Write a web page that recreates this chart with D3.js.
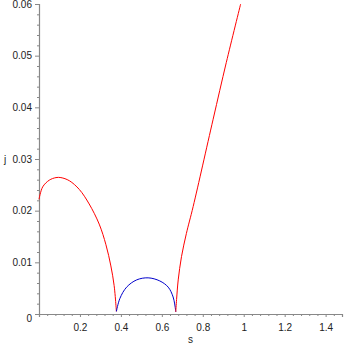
<!DOCTYPE html>
<html>
<head>
<meta charset="utf-8">
<script src="https://cdn.jsdelivr.net/npm/d3@7"></script>
<style>
  body { margin: 0; background: #fff; }
  text { font-family: "Liberation Sans", Arial, sans-serif; }
</style>
</head>
<body>
<div id="chart"></div>
<script>
// values
var redLeftS = [0, 0.018, 0.05, 0.083, 0.107, 0.148, 0.197, 0.245, 0.294, 0.327, 0.351, 0.367, 0.376, 0.378];
var redLeftJ = [0.0222, 0.0246, 0.0259, 0.0264, 0.0264, 0.0258, 0.0241, 0.0213, 0.0174, 0.0134, 0.0093, 0.0055, 0.0016, 0.0005];

var blueS = [0.378, 0.395, 0.428, 0.477, 0.533, 0.59, 0.631, 0.655, 0.667, 0.668];
var blueJ = [0.0005, 0.003, 0.0052, 0.0066, 0.007, 0.0064, 0.0052, 0.0033, 0.0008, 0.0004];

var redRightS = [0.668, 0.672, 0.68, 0.696, 0.72, 0.753, 0.85, 0.915, 0.985];
var redRightJ = [0.0004, 0.0028, 0.0066, 0.0111, 0.0156, 0.0208, 0.0376, 0.0487, 0.06];

var xTicks = [0.2, 0.4, 0.6, 0.8, 1, 1.2, 1.4];
var yTicks = [0, 0.01, 0.02, 0.03, 0.04, 0.05, 0.06];

var width = 346;
var height = 346;

var svg = d3.select("#chart")
  .append("svg")
  .attr("width", width)
  .attr("height", height);

var x = d3.scaleLinear().domain([0, 1.48]).range([39, 342]);
var y = d3.scaleLinear().domain([0, 0.06]).range([314, 4]);

var axisColor = "#888";
var labelColor = "#222";

// minor ticks
var xMinor = d3.range(0.04, 1.48, 0.04).filter(function(v) { return Math.abs(v * 5 - Math.round(v * 5)) > 1e-6; });
var yMinor = d3.range(0.002, 0.06, 0.002).filter(function(v) { return Math.abs(v * 100 - Math.round(v * 100)) > 1e-6; });

var gx = svg.append("g").attr("transform", "translate(0," + y(0) + ")");
gx.call(d3.axisBottom(x).tickValues(xTicks).tickSize(3).tickFormat(d3.format("")));
gx.append("g").call(d3.axisBottom(x).tickValues(xMinor).tickSize(2).tickFormat(""))
  .select(".domain").remove();

var gy = svg.append("g").attr("transform", "translate(" + x(0) + ",0)");
gy.call(d3.axisLeft(y).tickValues(yTicks).tickSize(4).tickFormat(function(d) { return d === 0 ? "0" : d3.format(".2f")(d); }));
gy.append("g").call(d3.axisLeft(y).tickValues(yMinor).tickSize(2).tickFormat(""))
  .select(".domain").remove();

svg.selectAll(".domain").attr("stroke", axisColor).attr("stroke-width", 1.2);
svg.selectAll(".tick line").attr("stroke", axisColor);
svg.selectAll(".tick text")
  .attr("fill", labelColor)
  .style("font-size", "10px")
  .style("font-family", "'Liberation Sans', Arial, sans-serif");
gx.selectAll(".tick text").attr("dy", "1.1em");
gy.selectAll(".tick text").attr("x", -7);
gy.selectAll(".tick").filter(function(d) { return d === 0; }).select("text").attr("dy", "0.75em");

// axis titles
svg.append("text").attr("x", x(0.74)).attr("y", 343).attr("text-anchor", "middle")
  .attr("fill", labelColor).style("font-size", "10px").text("s");
svg.append("text").attr("x", 5).attr("y", y(0.03) + 3.5).attr("text-anchor", "middle")
  .attr("fill", labelColor).style("font-size", "10px").text("j");

var line = d3.line()
  .x(function(d) { return x(d[0]); })
  .y(function(d) { return y(d[1]); })
  .curve(d3.curveCatmullRom.alpha(0.5));

function pairs(s, j) { return s.map(function(v, i) { return [v, j[i]]; }); }

svg.append("path").datum(pairs(redLeftS, redLeftJ))
  .attr("d", line).attr("fill", "none").attr("stroke", "#ff0000").attr("stroke-width", 1);
svg.append("path").datum(pairs(blueS, blueJ))
  .attr("d", line).attr("fill", "none").attr("stroke", "#0000cc").attr("stroke-width", 1);
svg.append("path").datum(pairs(redRightS, redRightJ))
  .attr("d", line).attr("fill", "none").attr("stroke", "#ff0000").attr("stroke-width", 1);
</script>
</body>
</html>
